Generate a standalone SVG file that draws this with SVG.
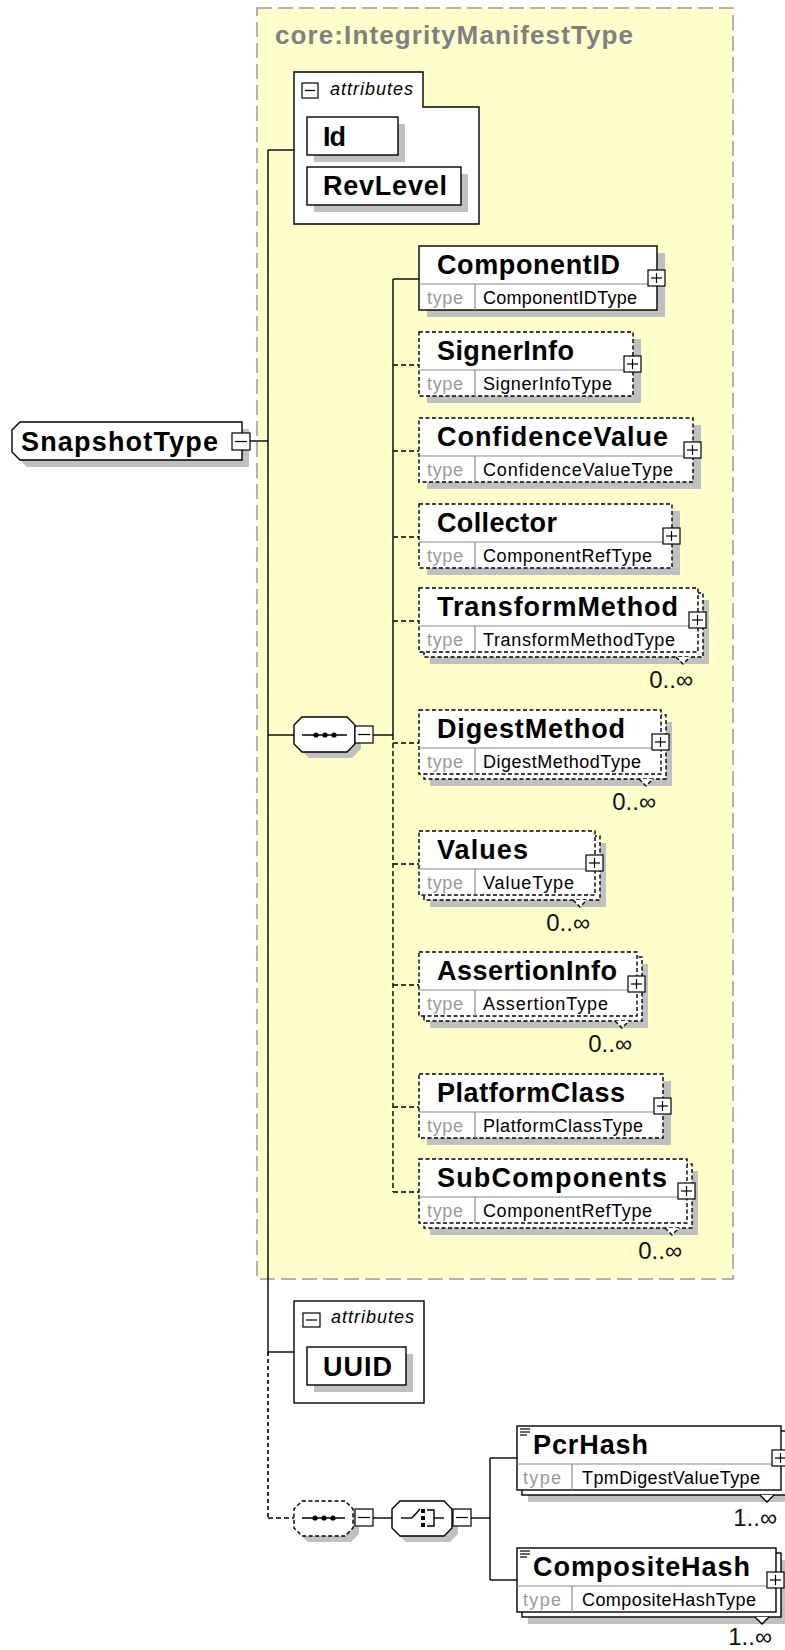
<svg xmlns="http://www.w3.org/2000/svg" width="785" height="1650" viewBox="0 0 785 1650">
<style>
text{font-family:"Liberation Sans",Arial,sans-serif}
.bg{fill:#ffffff}
.frame{fill:#ffffcc;stroke:#999999;stroke-width:1.5;stroke-dasharray:15 6}
.title{font-size:26px;font-weight:bold;fill:#808080}
.sh{fill:#c0c0c0;stroke:none}
.box{fill:#ffffff;stroke:#000;stroke-width:1.4}
.dbox{fill:#ffffff;stroke:#000;stroke-width:1.4;stroke-dasharray:4 2.5}
.div{stroke:#8a8a8a;stroke-width:1.2}
.name{font-size:27px;font-weight:bold;fill:#000}
.ty{font-size:18px;fill:#9a9a9a}
.tn{font-size:18px;fill:#000}
.occ{font-size:24px;fill:#111}
.attr{font-size:18px;font-style:italic;fill:#000}
.ln{fill:none;stroke:#000;stroke-width:1.4}
.dln{fill:none;stroke:#000;stroke-width:1.4;stroke-dasharray:5 3}
.dot{fill:none;stroke:#000;stroke-width:1.6;stroke-dasharray:4 3}
.pm{fill:#fff;stroke:#000;stroke-width:1.2}
.pl{stroke:#000;stroke-width:1.2}
</style>
<defs>
<g id="plus"><rect class="pm" x="0" y="0" width="17" height="16"/><line class="pl" x1="3" y1="8" x2="14" y2="8"/><line class="pl" x1="8.5" y1="3" x2="8.5" y2="13"/></g>
<g id="minus"><rect class="pm" x="0" y="0" width="18" height="17"/><line class="pl" x1="3" y1="8.5" x2="15" y2="8.5"/></g>
</defs>
<rect class="bg" x="0" y="0" width="785" height="1650"/>

<g id="integrity-manifest-type">
<rect class="frame" x="257" y="8" width="476" height="1271"/>
<text class="title" x="275" y="44" textLength="358" lengthAdjust="spacing">core:IntegrityManifestType</text>
</g>

<g id="connectors">
<line class="ln" x1="268" y1="150" x2="268" y2="1352"/>
<line class="dot" x1="268" y1="1352" x2="268" y2="1518"/>
<line class="ln" x1="268" y1="150" x2="294" y2="150"/>
<line class="ln" x1="249" y1="441" x2="268" y2="441"/>
<line class="ln" x1="268" y1="735" x2="294" y2="735"/>
<line class="ln" x1="268" y1="1352" x2="294" y2="1352"/>
<line class="dln" x1="268" y1="1518" x2="294" y2="1518"/>
<line class="ln" x1="373" y1="735" x2="393" y2="735"/>
<line class="ln" x1="393" y1="279" x2="393" y2="735"/>
<line class="dln" x1="393" y1="735" x2="393" y2="1192"/>
<line class="ln" x1="393" y1="279" x2="419" y2="279"/>
<line class="dln" x1="393" y1="365" x2="419" y2="365"/>
<line class="dln" x1="393" y1="451" x2="419" y2="451"/>
<line class="dln" x1="393" y1="537" x2="419" y2="537"/>
<line class="dln" x1="393" y1="621" x2="419" y2="621"/>
<line class="dln" x1="393" y1="743" x2="419" y2="743"/>
<line class="dln" x1="393" y1="864" x2="419" y2="864"/>
<line class="dln" x1="393" y1="985" x2="419" y2="985"/>
<line class="dln" x1="393" y1="1107" x2="419" y2="1107"/>
<line class="dln" x1="393" y1="1192" x2="419" y2="1192"/>
<line class="ln" x1="373" y1="1518" x2="392" y2="1518"/>
<line class="ln" x1="471" y1="1518" x2="490" y2="1518"/>
<line class="ln" x1="490" y1="1458" x2="490" y2="1580"/>
<line class="ln" x1="490" y1="1458" x2="517" y2="1458"/>
<line class="ln" x1="490" y1="1580" x2="517" y2="1580"/>
</g>

<g id="snapshot-type">
<path class="sh" d="M27,429 H249 V467 H27 L19,459 V437 Z"/>
<path class="box" d="M20,422 H242 V460 H20 L12,452 V430 Z"/>
<text class="name" x="21" y="451" textLength="197" lengthAdjust="spacing">SnapshotType</text>
<use href="#minus" x="232" y="433"/>
</g>

<g id="attributes-1">
<path class="box" d="M294,72 H423 V107 H479 V224 H294 Z"/>
<rect class="pm" x="302" y="83" width="16" height="15"/><line class="pl" x1="305" y1="90.5" x2="315" y2="90.5"/>
<text class="attr" x="330" y="95" textLength="83" lengthAdjust="spacing">attributes</text>
<g id="attr-id">
<rect class="sh" x="314" y="124" width="91" height="38"/>
<rect class="box" x="307" y="117" width="91" height="38"/>
<text class="name" x="323" y="146" textLength="23" lengthAdjust="spacing">Id</text>
</g>
<g id="attr-revlevel">
<rect class="sh" x="314" y="174" width="154" height="38"/>
<rect class="box" x="307" y="167" width="154" height="38"/>
<text class="name" x="323" y="195" textLength="124" lengthAdjust="spacing">RevLevel</text>
</g>
</g>

<g id="sequence-1">
<path class="sh" d="M309,723 H352 L361,732 V749 L352,758 H309 L300,749 V732 Z"/>
<path class="box" d="M302,717 H347 L355,725 V744 L347,752 H302 L294,744 V725 Z"/>
<line class="ln" x1="302" y1="735" x2="347" y2="735"/>
<circle cx="316" cy="735" r="2.6"/><circle cx="325" cy="735" r="2.6"/><circle cx="334" cy="735" r="2.6"/>
<use href="#minus" x="355" y="726"/>
</g>

<g id="componentid">
<rect class="sh" x="427" y="253" width="238" height="64"/>
<rect class="box" x="419" y="246" width="238" height="64"/>
<line class="div" x1="419" y1="284" x2="657" y2="284"/><line class="div" x1="475" y1="284" x2="475" y2="310"/>
<text class="name" x="437" y="274" textLength="183" lengthAdjust="spacing">ComponentID</text>
<text class="ty" x="427" y="304" textLength="36" lengthAdjust="spacing">type</text>
<text class="tn" x="483" y="304" textLength="154" lengthAdjust="spacing">ComponentIDType</text>
<use href="#plus" x="648" y="270"/>
</g>

<g id="signerinfo">
<rect class="sh" x="427" y="339" width="214" height="64"/>
<rect class="dbox" x="419" y="332" width="214" height="64"/>
<line class="div" x1="419" y1="370" x2="633" y2="370"/><line class="div" x1="475" y1="370" x2="475" y2="396"/>
<text class="name" x="437" y="360" textLength="137" lengthAdjust="spacing">SignerInfo</text>
<text class="ty" x="427" y="390" textLength="36" lengthAdjust="spacing">type</text>
<text class="tn" x="483" y="390" textLength="129" lengthAdjust="spacing">SignerInfoType</text>
<use href="#plus" x="624" y="356"/>
</g>

<g id="confidencevalue">
<rect class="sh" x="427" y="425" width="274" height="64"/>
<rect class="dbox" x="419" y="418" width="274" height="64"/>
<line class="div" x1="419" y1="456" x2="693" y2="456"/><line class="div" x1="475" y1="456" x2="475" y2="482"/>
<text class="name" x="437" y="446" textLength="231" lengthAdjust="spacing">ConfidenceValue</text>
<text class="ty" x="427" y="476" textLength="36" lengthAdjust="spacing">type</text>
<text class="tn" x="483" y="476" textLength="190" lengthAdjust="spacing">ConfidenceValueType</text>
<use href="#plus" x="684" y="442"/>
</g>

<g id="collector">
<rect class="sh" x="427" y="511" width="253" height="64"/>
<rect class="dbox" x="419" y="504" width="253" height="64"/>
<line class="div" x1="419" y1="542" x2="672" y2="542"/><line class="div" x1="475" y1="542" x2="475" y2="568"/>
<text class="name" x="437" y="532" textLength="120" lengthAdjust="spacing">Collector</text>
<text class="ty" x="427" y="562" textLength="36" lengthAdjust="spacing">type</text>
<text class="tn" x="483" y="562" textLength="169" lengthAdjust="spacing">ComponentRefType</text>
<use href="#plus" x="663" y="528"/>
</g>

<g id="transformmethod">
<rect class="sh" x="430" y="600" width="279" height="64"/>
<rect class="dbox" x="424" y="593" width="279" height="64"/>
<polyline class="dbox" points="676,657 683,664 690,657"/>
<rect class="dbox" x="419" y="588" width="279" height="64"/>
<line class="div" x1="419" y1="626" x2="698" y2="626"/><line class="div" x1="475" y1="626" x2="475" y2="652"/>
<text class="name" x="437" y="616" textLength="241" lengthAdjust="spacing">TransformMethod</text>
<text class="ty" x="427" y="646" textLength="36" lengthAdjust="spacing">type</text>
<text class="tn" x="483" y="646" textLength="192" lengthAdjust="spacing">TransformMethodType</text>
<use href="#plus" x="689" y="612"/>
<text class="occ" x="693" y="688" text-anchor="end">0..∞</text>
</g>

<g id="digestmethod">
<rect class="sh" x="430" y="722" width="242" height="64"/>
<rect class="dbox" x="424" y="715" width="242" height="64"/>
<polyline class="dbox" points="639,779 646,786 653,779"/>
<rect class="dbox" x="419" y="710" width="242" height="64"/>
<line class="div" x1="419" y1="748" x2="661" y2="748"/><line class="div" x1="475" y1="748" x2="475" y2="774"/>
<text class="name" x="437" y="738" textLength="188" lengthAdjust="spacing">DigestMethod</text>
<text class="ty" x="427" y="768" textLength="36" lengthAdjust="spacing">type</text>
<text class="tn" x="483" y="768" textLength="158" lengthAdjust="spacing">DigestMethodType</text>
<use href="#plus" x="652" y="734"/>
<text class="occ" x="656" y="810" text-anchor="end">0..∞</text>
</g>

<g id="values">
<rect class="sh" x="430" y="843" width="176" height="64"/>
<rect class="dbox" x="424" y="836" width="176" height="64"/>
<polyline class="dbox" points="573,900 580,907 587,900"/>
<rect class="dbox" x="419" y="831" width="176" height="64"/>
<line class="div" x1="419" y1="869" x2="595" y2="869"/><line class="div" x1="475" y1="869" x2="475" y2="895"/>
<text class="name" x="437" y="859" textLength="91" lengthAdjust="spacing">Values</text>
<text class="ty" x="427" y="889" textLength="36" lengthAdjust="spacing">type</text>
<text class="tn" x="483" y="889" textLength="91" lengthAdjust="spacing">ValueType</text>
<use href="#plus" x="586" y="855"/>
<text class="occ" x="590" y="931" text-anchor="end">0..∞</text>
</g>

<g id="assertioninfo">
<rect class="sh" x="430" y="964" width="218" height="64"/>
<rect class="dbox" x="424" y="957" width="218" height="64"/>
<polyline class="dbox" points="615,1021 622,1028 629,1021"/>
<rect class="dbox" x="419" y="952" width="218" height="64"/>
<line class="div" x1="419" y1="990" x2="637" y2="990"/><line class="div" x1="475" y1="990" x2="475" y2="1016"/>
<text class="name" x="437" y="980" textLength="180" lengthAdjust="spacing">AssertionInfo</text>
<text class="ty" x="427" y="1010" textLength="36" lengthAdjust="spacing">type</text>
<text class="tn" x="483" y="1010" textLength="125" lengthAdjust="spacing">AssertionType</text>
<use href="#plus" x="628" y="976"/>
<text class="occ" x="632" y="1052" text-anchor="end">0..∞</text>
</g>

<g id="platformclass">
<rect class="sh" x="427" y="1081" width="244" height="64"/>
<rect class="dbox" x="419" y="1074" width="244" height="64"/>
<line class="div" x1="419" y1="1112" x2="663" y2="1112"/><line class="div" x1="475" y1="1112" x2="475" y2="1138"/>
<text class="name" x="437" y="1102" textLength="188" lengthAdjust="spacing">PlatformClass</text>
<text class="ty" x="427" y="1132" textLength="36" lengthAdjust="spacing">type</text>
<text class="tn" x="483" y="1132" textLength="160" lengthAdjust="spacing">PlatformClassType</text>
<use href="#plus" x="654" y="1098"/>
</g>

<g id="subcomponents">
<rect class="sh" x="430" y="1171" width="268" height="64"/>
<rect class="dbox" x="424" y="1164" width="268" height="64"/>
<polyline class="dbox" points="665,1228 672,1235 679,1228"/>
<rect class="dbox" x="419" y="1159" width="268" height="64"/>
<line class="div" x1="419" y1="1197" x2="687" y2="1197"/><line class="div" x1="475" y1="1197" x2="475" y2="1223"/>
<text class="name" x="437" y="1187" textLength="230" lengthAdjust="spacing">SubComponents</text>
<text class="ty" x="427" y="1217" textLength="36" lengthAdjust="spacing">type</text>
<text class="tn" x="483" y="1217" textLength="169" lengthAdjust="spacing">ComponentRefType</text>
<use href="#plus" x="678" y="1183"/>
<text class="occ" x="682" y="1259" text-anchor="end">0..∞</text>
</g>

<g id="attributes-2">
<rect class="box" x="294" y="1301" width="130" height="102"/>
<rect class="pm" x="303" y="1313" width="17" height="14"/><line class="pl" x1="306" y1="1320" x2="317" y2="1320"/>
<text class="attr" x="331" y="1323" textLength="83" lengthAdjust="spacing">attributes</text>
<g id="attr-uuid">
<rect class="sh" x="314" y="1354" width="99" height="38"/>
<rect class="box" x="307" y="1347" width="99" height="38"/>
<text class="name" x="323" y="1376" textLength="69" lengthAdjust="spacing">UUID</text>
</g>
</g>

<g id="sequence-2">
<path class="sh" d="M308,1507 H351 L359,1515 V1534 L351,1542 H308 L300,1534 V1515 Z"/>
<path class="dbox" d="M302,1501 H345 L353,1509 V1528 L345,1536 H302 L294,1528 V1509 Z"/>
<line class="ln" x1="302" y1="1518" x2="345" y2="1518"/>
<circle cx="315" cy="1518" r="2.6"/><circle cx="324" cy="1518" r="2.6"/><circle cx="333" cy="1518" r="2.6"/>
<use href="#minus" x="355" y="1509"/>
</g>

<g id="choice">
<path class="sh" d="M406,1507 H450 L458,1515 V1534 L450,1542 H406 L398,1534 V1515 Z"/>
<path class="box" d="M400,1501 H444 L452,1509 V1528 L444,1536 H400 L392,1528 V1509 Z"/>
<line class="ln" x1="401" y1="1518" x2="412" y2="1518"/>
<line class="ln" x1="412" y1="1518" x2="420" y2="1509"/>
<rect x="421" y="1509" width="4" height="4"/><rect x="421" y="1516" width="4" height="4"/><rect x="421" y="1523" width="4" height="4"/>
<path class="ln" d="M427,1510 H434 V1526 H427"/>
<line class="ln" x1="434" y1="1518" x2="444" y2="1518"/>
<use href="#minus" x="453" y="1509"/>
</g>

<g id="pcrhash">
<rect class="sh" x="528" y="1438" width="264" height="64"/>
<rect class="box" x="522" y="1431" width="264" height="64"/>
<polyline class="box" points="760,1495 767,1502 774,1495"/>
<rect class="box" x="517" y="1426" width="264" height="64"/>
<line class="div" x1="517" y1="1464" x2="781" y2="1464"/><line class="div" x1="572" y1="1464" x2="572" y2="1490"/>
<line class="pl" x1="520" y1="1429" x2="530" y2="1429"/><line class="pl" x1="520" y1="1432" x2="530" y2="1432"/><line class="pl" x1="520" y1="1435" x2="527" y2="1435"/>
<text class="name" x="533" y="1454" textLength="115" lengthAdjust="spacing">PcrHash</text>
<text class="ty" x="523" y="1484" textLength="38" lengthAdjust="spacing">type</text>
<text class="tn" x="582" y="1484" textLength="178" lengthAdjust="spacing">TpmDigestValueType</text>
<use href="#plus" x="772" y="1450"/>
<text class="occ" x="777" y="1526" text-anchor="end">1..∞</text>
</g>

<g id="compositehash">
<rect class="sh" x="528" y="1560" width="259" height="64"/>
<rect class="box" x="522" y="1553" width="259" height="64"/>
<polyline class="box" points="755,1617 762,1624 769,1617"/>
<rect class="box" x="517" y="1548" width="259" height="64"/>
<line class="div" x1="517" y1="1586" x2="776" y2="1586"/><line class="div" x1="572" y1="1586" x2="572" y2="1612"/>
<line class="pl" x1="520" y1="1551" x2="530" y2="1551"/><line class="pl" x1="520" y1="1554" x2="530" y2="1554"/><line class="pl" x1="520" y1="1557" x2="527" y2="1557"/>
<text class="name" x="533" y="1576" textLength="217" lengthAdjust="spacing">CompositeHash</text>
<text class="ty" x="523" y="1606" textLength="38" lengthAdjust="spacing">type</text>
<text class="tn" x="582" y="1606" textLength="174" lengthAdjust="spacing">CompositeHashType</text>
<use href="#plus" x="767" y="1572"/>
<text class="occ" x="772" y="1645" text-anchor="end">1..∞</text>
</g>
</svg>
